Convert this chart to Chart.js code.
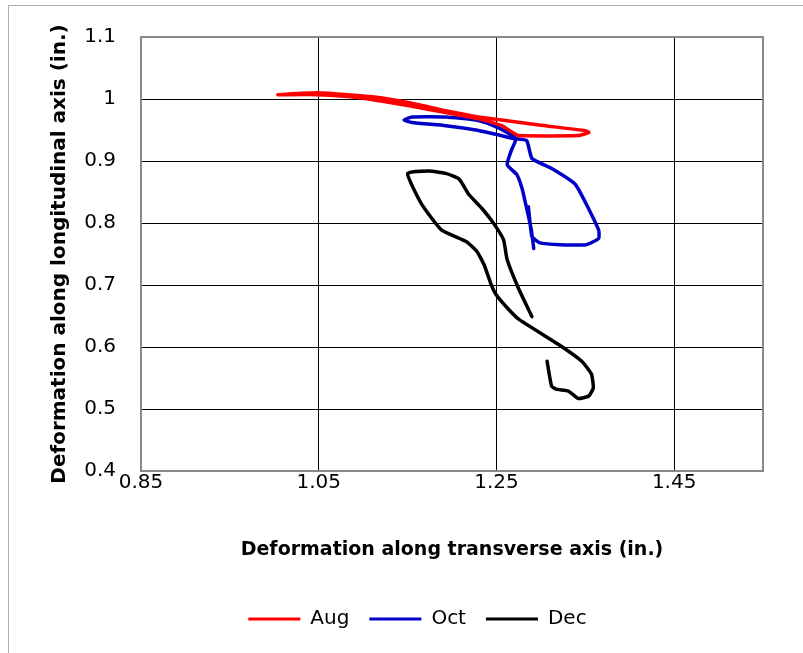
<!DOCTYPE html>
<html>
<head>
<meta charset="utf-8">
<script src="https://cdn.jsdelivr.net/npm/chart.js@4/dist/chart.umd.min.js"></script>
<style>
  html, body { margin: 0; padding: 0; background: #fff; }
  #wrap { width: 803px; height: 653px; position: relative; }
</style>
</head>
<body>
<div id="wrap"><canvas id="c" width="803" height="653"></canvas></div>
<script>
// Deformation paths (transverse x, longitudinal y), inches
const augX = [1.004, 1.049, 1.115, 1.152, 1.193, 1.230, 1.298, 1.350, 1.354, 1.342, 1.275, 1.267, 1.256, 1.230, 1.193, 1.152, 1.096, 1.049, 1.008];
const augY = [1.007, 1.010, 1.003, 0.994, 0.981, 0.971, 0.958, 0.949, 0.946, 0.941, 0.941, 0.947, 0.957, 0.968, 0.978, 0.989, 1.002, 1.007, 1.007];

const octX = [1.286, 1.290, 1.299, 1.322, 1.351, 1.365, 1.365, 1.339, 1.312, 1.290, 1.284, 1.270, 1.253, 1.227, 1.193, 1.155, 1.146, 1.155, 1.193, 1.227, 1.245, 1.261, 1.272, 1.267, 1.262, 1.273, 1.279, 1.283, 1.289, 1.292];
const octY = [0.826, 0.778, 0.768, 0.765, 0.765, 0.775, 0.789, 0.862, 0.888, 0.904, 0.933, 0.936, 0.942, 0.950, 0.957, 0.962, 0.966, 0.971, 0.971, 0.966, 0.958, 0.947, 0.936, 0.918, 0.894, 0.878, 0.855, 0.830, 0.791, 0.759];

const decX = [1.290, 1.275, 1.262, 1.258, 1.247, 1.234, 1.219, 1.208, 1.193, 1.174, 1.150, 1.166, 1.188, 1.216, 1.228, 1.236, 1.244, 1.249, 1.261, 1.275, 1.320, 1.346, 1.357, 1.359, 1.354, 1.342, 1.331, 1.317, 1.312, 1.307];
const decY = [0.649, 0.694, 0.741, 0.773, 0.799, 0.823, 0.846, 0.871, 0.880, 0.884, 0.880, 0.830, 0.789, 0.770, 0.754, 0.733, 0.701, 0.686, 0.665, 0.645, 0.604, 0.577, 0.556, 0.534, 0.521, 0.517, 0.529, 0.532, 0.537, 0.577];

const seriesNames = ['Aug', 'Oct', 'Dec'];
const xTicks = [0.85, 1.05, 1.25, 1.45];
const yTicks = [0.4, 0.5, 0.6, 0.7, 0.8, 0.9, 1.0, 1.1];

const toPts = (xs, ys) => xs.map((x, i) => ({ x: x, y: ys[i] }));

const FONT = "'DejaVu Sans', 'Liberation Sans', sans-serif";

function line(label, xs, ys, color) {
  return {
    label: label,
    data: toPts(xs, ys),
    showLine: true,
    borderColor: color,
    backgroundColor: color,
    borderWidth: 3.5,
    pointRadius: 0,
    pointHoverRadius: 0,
    tension: 0.15,
    borderJoinStyle: 'round',
    borderCapStyle: 'round'
  };
}

// Outer frame, gray plot border, legend shifted to sit under the plot
const frame = {
  id: 'frame',
  beforeDraw(chart) {
    const ctx = chart.ctx;
    ctx.save();
    ctx.fillStyle = '#fff';
    ctx.fillRect(0, 0, chart.width, chart.height);
    ctx.strokeStyle = '#b0b0b0';
    ctx.lineWidth = 1;
    ctx.strokeRect(8.5, 5.5, 900, 900);
    ctx.restore();
  },
  afterLayout(chart) {
    if (chart.legend) {
      chart.legend.left += 36;
      chart.legend.right += 36;
    }
  },
  afterDatasetsDraw(chart) {
    const a = chart.chartArea;
    const ctx = chart.ctx;
    ctx.save();
    ctx.strokeStyle = '#888';
    ctx.lineWidth = 2;
    ctx.strokeRect(a.left, a.top, a.right - a.left, a.bottom - a.top);
    ctx.restore();
  }
};

new Chart(document.getElementById('c'), {
  type: 'scatter',
  data: {
    datasets: [
      line(seriesNames[0], augX, augY, '#ff0000'),
      line(seriesNames[1], octX, octY, '#0000c8'),
      line(seriesNames[2], decX, decY, '#000000')
    ]
  },
  options: {
    responsive: false,
    animation: false,
    devicePixelRatio: 1,
    layout: { padding: { top: 28, left: 0, right: 40, bottom: 14 } },
    scales: {
      x: {
        type: 'linear',
        min: 0.85,
        max: 1.55,
        afterBuildTicks(s) { s.ticks = xTicks.map(v => ({ value: v })); },
        afterFit(s) { s.height = 118; },
        grid: { color: '#000', lineWidth: 1, drawTicks: false },
        border: { display: false },
        ticks: {
          padding: 0,
          color: '#000',
          font: { family: FONT, size: 20 },
          callback: v => v.toFixed(2)
        },
        title: {
          display: true,
          text: 'Deformation along transverse axis (in.)',
          color: '#000',
          font: { family: FONT, size: 19, weight: 'bold' },
          padding: { top: 0, bottom: 28 }
        }
      },
      y: {
        type: 'linear',
        min: 0.4,
        max: 1.1,
        afterBuildTicks(s) { s.ticks = yTicks.map(v => ({ value: v })); },
        afterFit(s) { s.width = 141; },
        grid: { color: '#000', lineWidth: 1, drawTicks: false },
        border: { display: false },
        ticks: {
          padding: 25,
          color: '#000',
          font: { family: FONT, size: 20 },
          callback: v => String(Math.round(v * 10) / 10)
        },
        title: {
          display: true,
          text: 'Deformation along longitudinal axis (in.)',
          color: '#000',
          font: { family: FONT, size: 20, weight: 'bold' },
          padding: { top: 48, bottom: 0 }
        }
      }
    },
    plugins: {
      legend: {
        position: 'bottom',
        labels: {
          boxWidth: 52,
          boxHeight: 3,
          padding: 20,
          color: '#000',
          font: { family: FONT, size: 20 },
          generateLabels(chart) {
            const items = Chart.defaults.plugins.legend.labels.generateLabels(chart);
            items.forEach(it => { it.lineWidth = 0; });
            return items;
          }
        }
      },
      tooltip: { enabled: false }
    }
  },
  plugins: [frame]
});
</script>
</body>
</html>
